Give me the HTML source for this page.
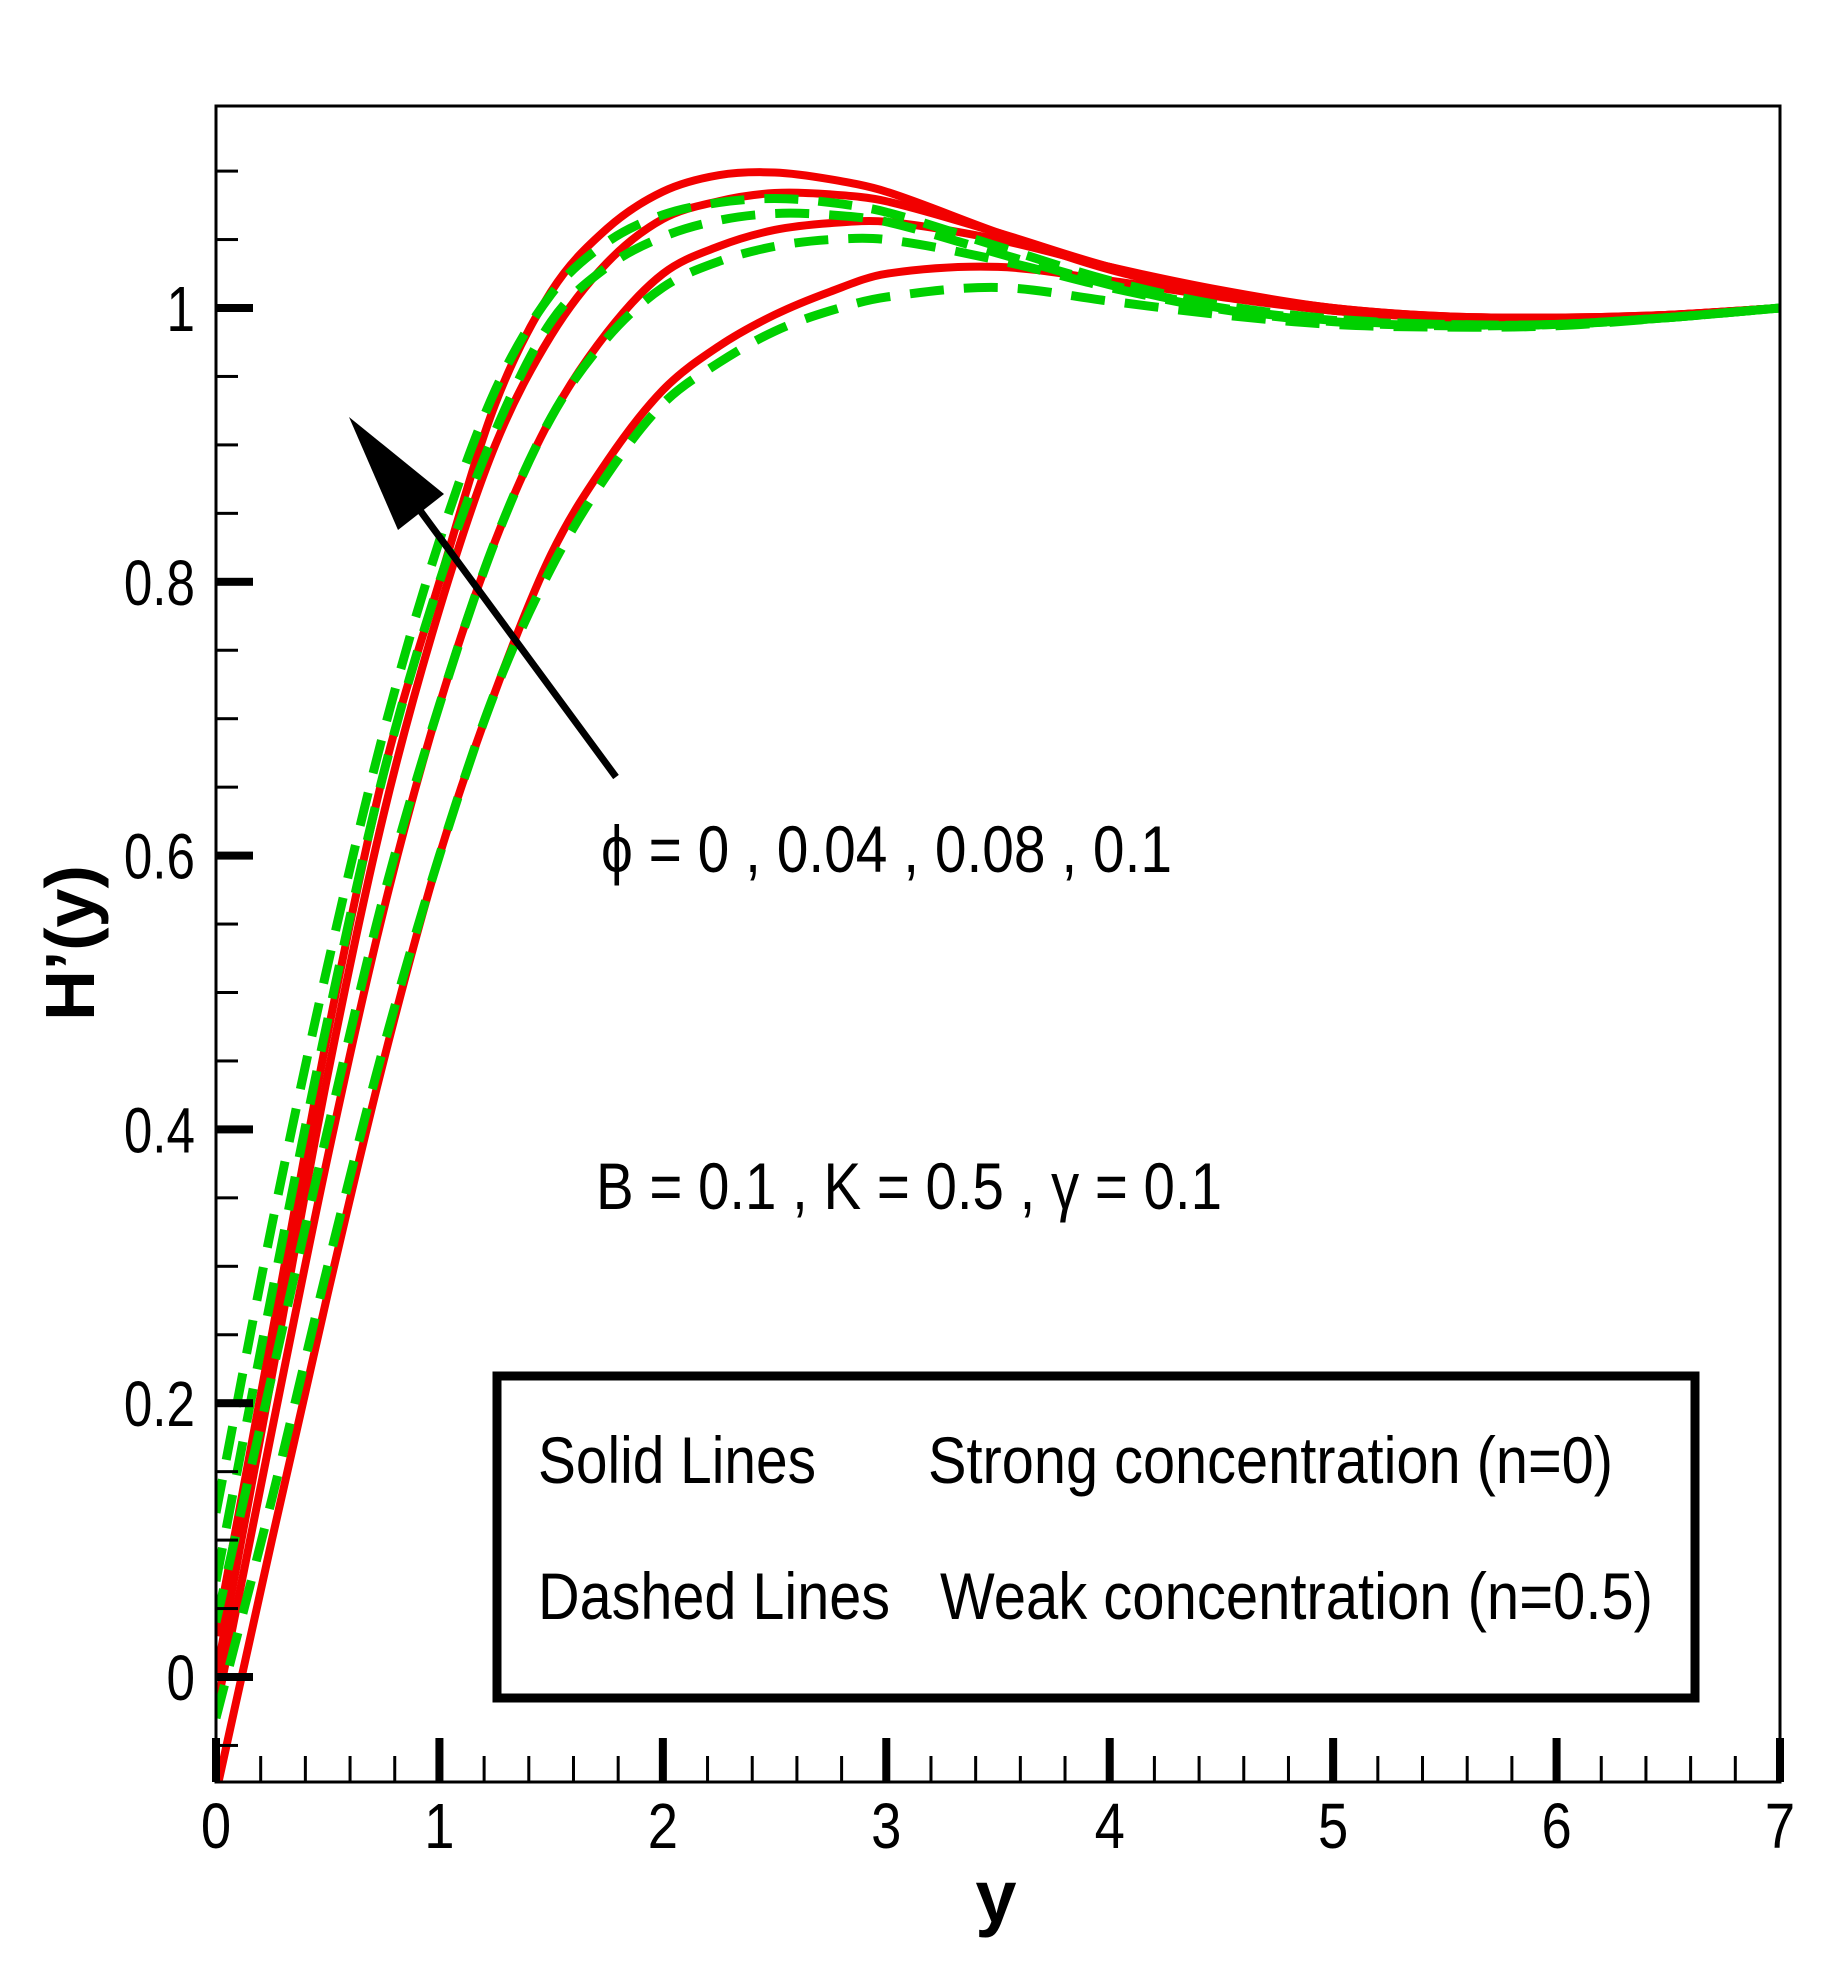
<!DOCTYPE html>
<html><head><meta charset="utf-8"><style>
html,body{margin:0;padding:0;background:#fff}
svg{display:block}
text{font-family:"Liberation Sans",sans-serif;fill:#000}
</style></head><body>
<svg id="chart" width="1836" height="1971" viewBox="0 0 1836 1971" xmlns="http://www.w3.org/2000/svg">
<defs><clipPath id="plotclip"><rect x="216" y="106" width="1564" height="1676"/></clipPath></defs>
<rect x="0" y="0" width="1836" height="1971" fill="#fff"/>
<g id="curves" clip-path="url(#plotclip)"></g>
<rect x="216" y="106" width="1564" height="1676" fill="none" stroke="#000" stroke-width="3"/>
<g id="axes"></g>
<text x="996" y="1922" font-size="74" font-weight="bold" text-anchor="middle">y</text>
<text transform="translate(94,943) rotate(-90)" font-size="70" font-weight="bold" text-anchor="middle">H’(y)</text>
<g>
<line x1="616" y1="777" x2="405" y2="490" stroke="#000" stroke-width="7"/>
<polygon points="349,417 444,494 398,530" fill="#000"/>
</g>
<text x="601" y="872" font-size="66" textLength="571" lengthAdjust="spacingAndGlyphs">ϕ = 0 , 0.04 , 0.08 , 0.1</text>
<text x="596" y="1209" font-size="66" textLength="626" lengthAdjust="spacingAndGlyphs">B = 0.1 , K = 0.5 , γ = 0.1</text>
<g>
<rect x="497" y="1376" width="1198" height="322" fill="#fff" stroke="#000" stroke-width="9"/>
<text x="538" y="1483" font-size="66" textLength="278" lengthAdjust="spacingAndGlyphs">Solid Lines</text>
<text x="928" y="1483" font-size="66" textLength="685" lengthAdjust="spacingAndGlyphs">Strong concentration (n=0)</text>
<text x="538" y="1619" font-size="66" textLength="352" lengthAdjust="spacingAndGlyphs">Dashed Lines</text>
<text x="940" y="1619" font-size="66" textLength="713" lengthAdjust="spacingAndGlyphs">Weak concentration (n=0.5)</text>
</g>
</svg>
<script>
const xGrid=[0,0.25,0.5,0.75,1,1.25,1.5,1.75,2,2.25,2.5,2.75,3,3.5,4,4.5,5,5.5,6,6.5,7];
const solid1=[0.03,0.25,0.47,0.66,0.80,0.93,1.012,1.058,1.085,1.097,1.099,1.094,1.085,1.055,1.028,1.01,0.998,0.993,0.992,0.995,1.0];
const solid2=[0.0,0.22,0.44,0.63,0.78,0.90,0.98,1.033,1.065,1.078,1.084,1.083,1.078,1.055,1.03,1.012,1.0,0.994,0.993,0.995,1.0];
const solid3=[-0.025,0.18,0.38,0.56,0.71,0.83,0.92,0.982,1.025,1.045,1.057,1.062,1.063,1.05,1.03,1.013,1.0,0.994,0.993,0.995,1.0];
const solid4=[-0.085,0.10,0.28,0.45,0.60,0.72,0.82,0.888,0.94,0.972,0.995,1.012,1.025,1.03,1.02,1.008,0.998,0.993,0.992,0.995,1.0];
const dashed1=[0.12,0.33,0.52,0.69,0.83,0.94,1.01,1.048,1.068,1.077,1.08,1.077,1.07,1.045,1.02,1.002,0.992,0.988,0.988,0.993,1.0];
const dashed2=[0.07,0.28,0.48,0.66,0.80,0.91,0.99,1.03,1.052,1.064,1.069,1.068,1.063,1.04,1.017,1.0,0.991,0.988,0.988,0.993,1.0];
const dashed3=[0.04,0.22,0.40,0.57,0.71,0.83,0.92,0.978,1.015,1.034,1.045,1.05,1.05,1.035,1.015,0.999,0.99,0.987,0.988,0.993,1.0];
const dashed4=[-0.03,0.13,0.30,0.46,0.60,0.72,0.81,0.878,0.93,0.96,0.983,0.998,1.008,1.015,1.005,0.995,0.988,0.986,0.987,0.993,1.0];
const xTicks=[0,1,2,3,4,5,6,7];
const yTicks=[0,0.2,0.4,0.6,0.8,1];
const yTickLabels=["0","0.2","0.4","0.6","0.8","1"];

const NS="http://www.w3.org/2000/svg";
const X0=216,X1=1780,XMIN=0,XMAX=7;
const YZ=1677,YPX=1369;
function sx(v){return X0+(v-XMIN)/(XMAX-XMIN)*(X1-X0);}
function sy(v){return YZ-v*YPX;}
function mk(tag,attrs,parent){const e=document.createElementNS(NS,tag);for(const k in attrs)e.setAttribute(k,attrs[k]);parent.appendChild(e);return e;}
function pathFor(ys){
  const n=xGrid.length;
  const m=[];
  for(let i=0;i<n;i++){
    if(i===0)m.push((ys[1]-ys[0])/(xGrid[1]-xGrid[0]));
    else if(i===n-1)m.push((ys[n-1]-ys[n-2])/(xGrid[n-1]-xGrid[n-2]));
    else m.push((ys[i+1]-ys[i-1])/(xGrid[i+1]-xGrid[i-1]));
  }
  let d="M"+sx(xGrid[0])+","+sy(ys[0]);
  for(let i=0;i<n-1;i++){
    const h=xGrid[i+1]-xGrid[i];
    const c1x=xGrid[i]+h/3,c1y=ys[i]+m[i]*h/3;
    const c2x=xGrid[i+1]-h/3,c2y=ys[i+1]-m[i+1]*h/3;
    d+=" C"+sx(c1x)+","+sy(c1y)+" "+sx(c2x)+","+sy(c2y)+" "+sx(xGrid[i+1])+","+sy(ys[i+1]);
  }
  return d;
}
const g=document.getElementById('curves');
const solids=[solid1,solid2,solid3,solid4];
solids.forEach((s,i)=>{
  const el=mk('path',{d:pathFor(s),fill:'none',stroke:'#f20000','stroke-width':8,'stroke-linejoin':'round'},g);
  
  
});
const dashes=[dashed1,dashed2,dashed3,dashed4];
dashes.forEach((s,i)=>{
  const el=mk('path',{d:pathFor(s),fill:'none',stroke:'#00d000','stroke-width':9,'stroke-dasharray':'34 20'},g);
  
  
});
const ax=document.getElementById('axes');


const YB=1782;
for(let i=0;i<xTicks.length;i++){
  const x=sx(xTicks[i]);
  const t=mk('rect',{x:x-4,y:YB-44,width:8,height:44,fill:'#000'},ax);
  
  
  const l=mk('text',{transform:'translate('+x+',1848) scale(0.85,1)','font-size':64,'text-anchor':'middle'},ax);
  l.textContent=String(xTicks[i]);
  
  
  if(i<xTicks.length-1){
    for(let k=1;k<5;k++){
      const mx=sx(xTicks[i]+k*0.2);
      const m=mk('rect',{x:mx-1.5,y:YB-26,width:3,height:26,fill:'#000'},ax);
      
      
    }
  }
}
for(let i=0;i<yTicks.length;i++){
  const y=sy(yTicks[i]);
  const t=mk('rect',{x:X0,y:y-4,width:37,height:8,fill:'#000'},ax);
  
  
  const l=mk('text',{transform:'translate(195,'+(y+23)+') scale(0.8,1)','font-size':64,'text-anchor':'end'},ax);
  l.textContent=yTickLabels[i];
  
  
}
for(let v=-0.05;v<=1.16;v+=0.05){
  const r=Math.round(v*100)/100;
  if(Math.abs(r*5-Math.round(r*5))<1e-6)continue;
  const y=sy(r);
  if(y<106||y>YB)continue;
  const m=mk('rect',{x:X0,y:y-1.5,width:22,height:3,fill:'#000'},ax);
  
  
}
</script>
</body></html>
